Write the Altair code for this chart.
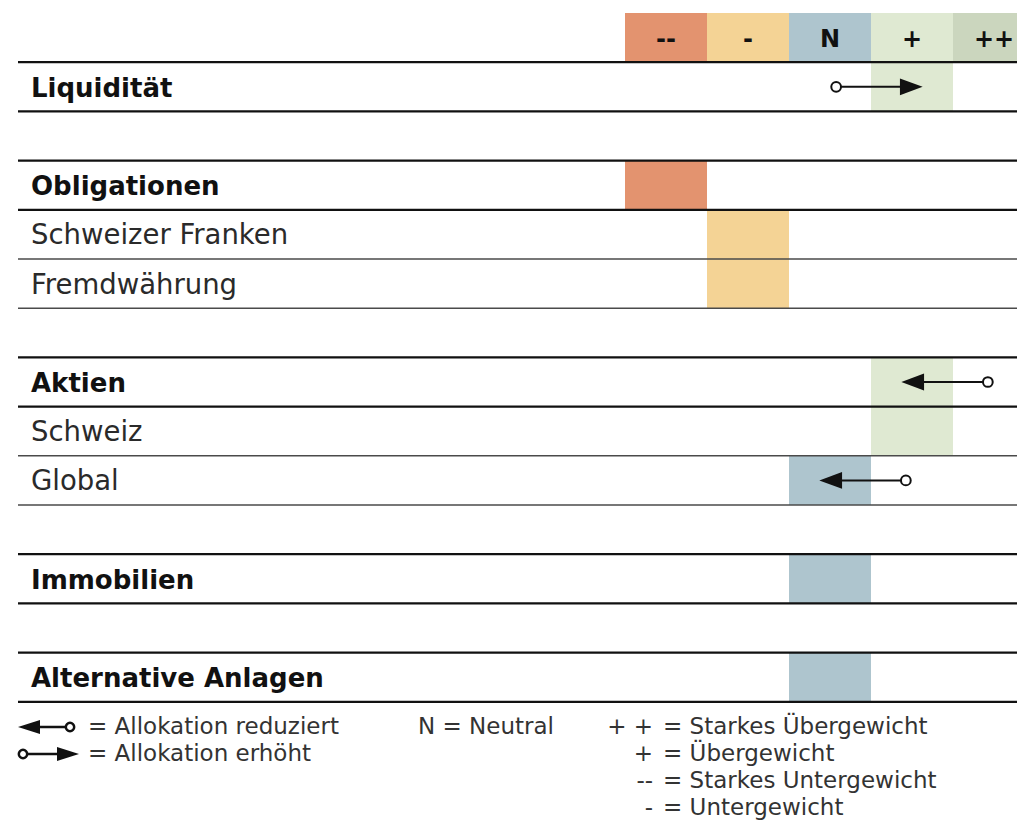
import altair as alt
import pandas as pd

# ---------------- data ----------------
levels = ["--", "-", "N", "+", "++"]
level_colors = ["#E3936F", "#F4D395", "#AEC5CE", "#DFE9D2", "#CBD6BE"]

categories = ["Liquidität", "Obligationen", "Schweizer Franken", "Fremdwährung",
              "Aktien", "Schweiz", "Global", "Immobilien", "Alternative Anlagen"]
row_slots = [1, 3, 4, 5, 7, 8, 9, 11, 13]
is_main = [True, True, False, False, True, False, False, True, True]
ratings = ["+", "--", "-", "-", "+", "+", "N", "N", "N"]

arrow_rows = ["Liquidität", "Aktien", "Global"]
arrow_from = ["N", "++", "+"]
arrow_to = ["+", "+", "N"]

legend_arrow_dirs = ["left", "right"]
legend_arrow_labels = ["= Allokation reduziert", "= Allokation erhöht"]
legend_neutral_label = ["N = Neutral"]
legend_level_symbols = ["+ +", "+", "--", "-"]
legend_level_labels = ["= Starkes Übergewicht", "= Übergewicht",
                       "= Starkes Untergewicht", "= Untergewicht"]

# ---------------- layout helpers ----------------
W, H = 1009, 814
COL_PX = 82.0
COL0_PX = 617.0
ROW_PX = 49.2
ROW0_PX = 5.0


def cu(px):
    return (px - COL0_PX) / COL_PX


def ru(py):
    return (py - ROW0_PX) / ROW_PX


xs = alt.Scale(domain=[cu(0), cu(W)], nice=False, zero=False)
ys = alt.Scale(domain=[ru(0), ru(H)], nice=False, zero=False, reverse=True)
cscale = alt.Scale(domain=levels, range=level_colors)

# header
hdr = pd.DataFrame({"level": levels, "k": list(range(len(levels)))})
hdr["k2"] = hdr["k"] + 1
hdr["kc"] = hdr["k"] + 0.5
hdr["y0"] = 0.0
hdr["y1"] = 0.976
hdr["yc"] = 0.55

# rows
rows = pd.DataFrame({"cat": categories, "slot": row_slots, "main": is_main, "rating": ratings})
rows["k"] = rows["rating"].map(levels.index)
rows["k2"] = rows["k"] + 1
rows["y1"] = rows["slot"] + 1
rows["yc"] = rows["slot"] + 0.5

# boundary lines
bmap = {1: True}
for s, m in zip(row_slots, is_main):
    for b in (s, s + 1):
        bmap[b] = bmap.get(b, False) or m
lines = pd.DataFrame({"b": list(bmap.keys()), "thick": list(bmap.values())})

# arrows
arr = pd.DataFrame({"cat": arrow_rows, "from": arrow_from, "to": arrow_to})
arr["slot"] = arr["cat"].map(dict(zip(categories, row_slots)))
arr["yc"] = arr["slot"] + 0.5
arr["fk"] = arr["from"].map(levels.index) + 0.5
arr["tk"] = arr["to"].map(levels.index) + 0.5
arr["d"] = (arr["tk"] - arr["fk"]).apply(lambda v: 1 if v > 0 else -1)
arr["dir"] = arr["d"].map({1: "right", -1: "left"})
arr["cx"] = arr["fk"] + 0.075 * arr["d"]
arr["tx"] = arr["tk"] + 0.13 * arr["d"]
arr["lx"] = arr["tx"] - 0.15 * arr["d"]

PATH_R = "M0,0L-1,-0.37L-1,0.37Z"
PATH_L = "M0,0L1,-0.37L1,0.37Z"
PATH_R2 = "M0,0L-1,-0.32L-1,0.32Z"
PATH_L2 = "M0,0L1,-0.32L1,0.32Z"

# legend rows (chart px)
LEG_Y = [719, 746, 773, 800]

# legend arrows
lg = pd.DataFrame({"dir": legend_arrow_dirs})
lg["yc"] = [ru(LEG_Y[0]), ru(LEG_Y[1])]
lg["tx"] = [cu(10), cu(71)]
lg["cx"] = [cu(62), cu(15)]
lg["lx"] = [cu(16), cu(64)]

lgt = pd.DataFrame({"t": legend_arrow_labels, "yc": [ru(LEG_Y[0]), ru(LEG_Y[1])]})
lgn = pd.DataFrame({"t": legend_neutral_label, "yc": [ru(LEG_Y[0])]})
lgl = pd.DataFrame({"s": legend_level_symbols, "t": legend_level_labels,
                    "yc": [ru(v) for v in LEG_Y]})

X = lambda f: alt.X(f, scale=xs, axis=None)
Y = lambda f: alt.Y(f, scale=ys, axis=None)

layers = []

# header cells
layers.append(alt.Chart(hdr).mark_rect(clip=True).encode(
    x=X("k:Q"), x2="k2:Q", y=Y("y0:Q"), y2="y1:Q",
    color=alt.Color("level:N", scale=cscale, legend=None)))
layers.append(alt.Chart(hdr).mark_text(font="DejaVu Sans", fontWeight="bold", fontSize=24,
                                       color="#111111", baseline="middle", align="center").encode(
    x=X("kc:Q"), y=Y("yc:Q"), text="level:N"))

# rating cells
layers.append(alt.Chart(rows).mark_rect().encode(
    x=X("k:Q"), x2="k2:Q", y=Y("slot:Q"), y2="y1:Q",
    color=alt.Color("rating:N", scale=cscale, legend=None)))

# lines
layers.append(alt.Chart(lines).transform_filter("!datum.thick").mark_rule(
    color="#4a4a4a", strokeWidth=1.5).encode(
    x=alt.X("xa:Q", scale=xs, axis=None), x2="xb:Q", y=Y("b:Q")).transform_calculate(
    xa=str(cu(10)), xb=str(cu(W))))
layers.append(alt.Chart(lines).transform_filter("datum.thick").mark_rule(
    color="#111111", strokeWidth=2.2).encode(
    x=alt.X("xa:Q", scale=xs, axis=None), x2="xb:Q", y=Y("b:Q")).transform_calculate(
    xa=str(cu(10)), xb=str(cu(W))))

# row labels
layers.append(alt.Chart(rows).transform_filter("datum.main").mark_text(
    font="DejaVu Sans", fontWeight="bold", fontSize=26, color="#111111",
    align="left", baseline="middle", dy=2).encode(
    x=alt.X("lx:Q", scale=xs, axis=None), y=Y("yc:Q"), text="cat:N").transform_calculate(
    lx=str(cu(23))))
layers.append(alt.Chart(rows).transform_filter("!datum.main").mark_text(
    font="DejaVu Sans", fontSize=27.5, color="#2a2a2a",
    align="left", baseline="middle", dy=2).encode(
    x=alt.X("lx:Q", scale=xs, axis=None), y=Y("yc:Q"), text="cat:N").transform_calculate(
    lx=str(cu(23))))

# arrows (table)
layers.append(alt.Chart(arr).mark_rule(color="#111111", strokeWidth=2).encode(
    x=X("cx:Q"), x2="lx:Q", y=Y("yc:Q")))
for dname, path in (("right", PATH_R), ("left", PATH_L)):
    layers.append(alt.Chart(arr).transform_filter(f"datum.dir == '{dname}'").mark_point(
        shape=path, filled=True, color="#111111", size=2061, strokeWidth=0, opacity=1).encode(
        x=X("tx:Q"), y=Y("yc:Q")))
layers.append(alt.Chart(arr).mark_point(shape="circle", filled=True, fill="white",
                                        stroke="#111111", strokeWidth=2, size=95, opacity=1).encode(
    x=X("cx:Q"), y=Y("yc:Q")))

# legend arrows
layers.append(alt.Chart(lg).mark_rule(color="#111111", strokeWidth=2.5).encode(
    x=X("cx:Q"), x2="lx:Q", y=Y("yc:Q")))
for dname, path in (("right", PATH_R2), ("left", PATH_L2)):
    layers.append(alt.Chart(lg).transform_filter(f"datum.dir == '{dname}'").mark_point(
        shape=path, filled=True, color="#111111", size=1936, strokeWidth=0, opacity=1).encode(
        x=X("tx:Q"), y=Y("yc:Q")))
layers.append(alt.Chart(lg).mark_point(shape="circle", filled=True, fill="white",
                                       stroke="#111111", strokeWidth=2.5, size=70, opacity=1).encode(
    x=X("cx:Q"), y=Y("yc:Q")))

LEG_FONT = dict(font="DejaVu Sans", fontSize=23, color="#333333", baseline="middle")
layers.append(alt.Chart(lgt).mark_text(align="left", **LEG_FONT).encode(
    x=alt.X("lx:Q", scale=xs, axis=None), y=Y("yc:Q"), text="t:N").transform_calculate(
    lx=str(cu(80))))
layers.append(alt.Chart(lgn).mark_text(align="left", **LEG_FONT).encode(
    x=alt.X("lx:Q", scale=xs, axis=None), y=Y("yc:Q"), text="t:N").transform_calculate(
    lx=str(cu(410))))
layers.append(alt.Chart(lgl).mark_text(align="right", **LEG_FONT).encode(
    x=alt.X("lx:Q", scale=xs, axis=None), y=Y("yc:Q"), text="s:N").transform_calculate(
    lx=str(cu(645))))
layers.append(alt.Chart(lgl).mark_text(align="left", **LEG_FONT).encode(
    x=alt.X("lx:Q", scale=xs, axis=None), y=Y("yc:Q"), text="t:N").transform_calculate(
    lx=str(cu(655))))

chart = alt.layer(*layers).properties(
    width=W, height=H, padding=0, background="white",
    autosize=alt.AutoSizeParams(type="none")
).configure_view(strokeWidth=0)

chart.save("out.html", embed_options={"renderer": "svg", "actions": False})
